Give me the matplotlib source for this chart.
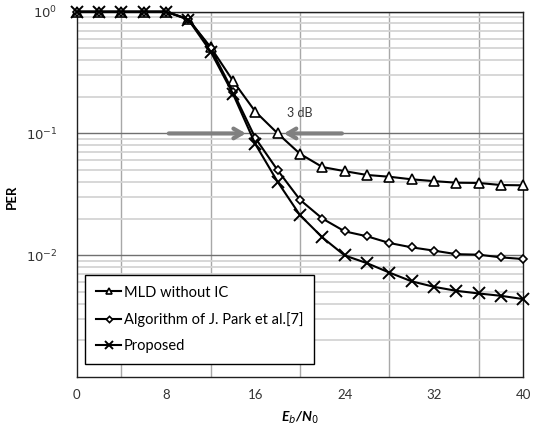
import matplotlib.pyplot as plt
from matplotlib.ticker import FixedLocator, NullFormatter, LogLocator
import numpy as np

plt.rcParams['font.family'] = ['Lato', 'DejaVu Sans']

# ---- data ----
ebn0 = list(range(0, 41, 2))
per_mld = [1.0, 1.0, 1.0, 1.0, 1.0, 0.865, 0.51, 0.27, 0.151, 0.100, 0.068,
           0.053, 0.049, 0.0456, 0.0441, 0.042, 0.0406, 0.0394, 0.0392, 0.0377, 0.0375]
per_park = [1.0, 1.0, 1.0, 1.0, 1.0, 0.87, 0.50, 0.22, 0.0916, 0.0498, 0.0285,
            0.020, 0.0157, 0.0143, 0.0126, 0.0116, 0.0109, 0.0102, 0.0101, 0.0096, 0.0093]
per_prop = [1.0, 1.0, 1.0, 1.0, 1.0, 0.86, 0.47, 0.211, 0.0817, 0.040, 0.0213,
            0.014, 0.00995, 0.0086, 0.0072, 0.0061, 0.0055, 0.0051, 0.00485, 0.00464, 0.00436]

labels = ['MLD without IC', 'Algorithm of J. Park et al.[7]', 'Proposed']
xticks = [0, 8, 16, 24, 32, 40]
yticks = [1e-2, 1e-1, 1e0]
ytick_labels = [r'$10^{-2}$', r'$10^{-1}$', r'$10^{0}$']

fig = plt.figure(figsize=(5.39, 4.25), dpi=100)
ax = fig.add_axes([0.1423, 0.113, 0.9710 - 0.1423, 0.9725 - 0.113])

ax.set_yscale('log')
ax.set_xlim(0, 40)
ax.set_ylim(1e-3, 1)

# grid
ax.xaxis.set_minor_locator(FixedLocator(range(0, 41, 4)))
ax.yaxis.set_minor_locator(LogLocator(base=10, subs=np.arange(2, 10)))
ax.yaxis.set_minor_formatter(NullFormatter())
ax.grid(True, which='minor', axis='y', color='#d4d4d4', lw=1.3)
ax.grid(True, which='major', axis='y', color='#707070', lw=1.0)
ax.grid(True, which='minor', axis='x', color='#a8a8a8', lw=1.0)
ax.set_axisbelow(True)

ax.set_xticks(xticks)
ax.set_xticklabels([str(v) for v in xticks])
ax.set_yticks(yticks)
ax.set_yticklabels(ytick_labels)
ax.tick_params(which='both', length=0, labelsize=9.5, colors='#333333')
ax.tick_params(axis='x', pad=9)
ax.tick_params(axis='y', pad=14)
for s in ax.spines.values():
    s.set_color('#202020')
    s.set_linewidth(1.0)

ax.plot(ebn0, per_mld, color='black', lw=1.5, marker='^', ms=6.5,
        mfc='white', mec='black', mew=1.2, label=labels[0], clip_on=False, zorder=5)
ax.plot(ebn0, per_park, color='black', lw=1.5, marker='D', ms=4.2,
        mfc='white', mec='black', mew=1.2, label=labels[1], clip_on=False, zorder=5)
ax.plot(ebn0, per_prop, color='black', lw=1.5, marker='x', ms=8,
        mec='black', mew=1.4, label=labels[2], clip_on=False, zorder=5)

# 3 dB arrows
ax.annotate('', xy=(15.4, 0.1), xytext=(8, 0.1),
            arrowprops=dict(arrowstyle='->,head_length=0.6,head_width=0.35',
                            color='#808080', lw=3), zorder=4)
ax.annotate('', xy=(18.3, 0.1), xytext=(24, 0.1),
            arrowprops=dict(arrowstyle='->,head_length=0.6,head_width=0.35',
                            color='#808080', lw=3), zorder=4)
ax.text(18.8, 0.148, '3 dB', fontsize=9, color='#333333', ha='left', va='center')

leg = ax.legend(loc='lower left', bbox_to_anchor=(0.019, 0.035), fontsize=10.5,
                frameon=True, fancybox=False, edgecolor='black', framealpha=1,
                handlelength=1.7, labelspacing=0.85, borderpad=0.75,
                handletextpad=0.2, borderaxespad=0, markerscale=0.75)
leg.get_frame().set_linewidth(1.0)

ax.set_ylabel('PER', fontsize=9.5, fontweight='bold')
ax.yaxis.set_label_coords(-0.131, 0.493)
ax.set_xlabel('E$_b$/N$_0$', fontsize=10, fontweight='bold', fontstyle='italic', labelpad=6)

plt.savefig('out.png', dpi=100)
